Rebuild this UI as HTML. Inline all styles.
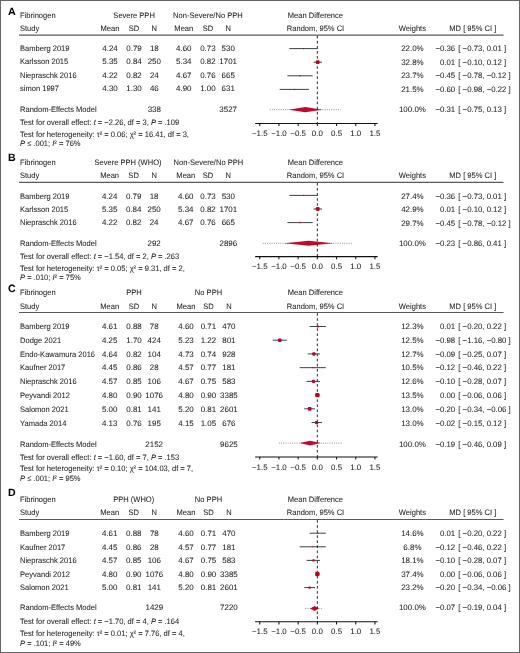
<!DOCTYPE html>
<html><head><meta charset="utf-8"><style>
html,body{margin:0;padding:0;background:#fff;}
body{width:520px;height:653px;overflow:hidden;position:relative;}
svg{position:absolute;left:0;top:0;filter:blur(0.3px);}
text{text-rendering:geometricPrecision;font-family:"Liberation Sans",sans-serif;font-size:7.95px;fill:#1e1e1e;stroke:#1e1e1e;stroke-width:0.06px;}
text.tk{font-size:7.9px;}
text.lab{font-size:10.6px;font-weight:bold;fill:#000;}
.hl{stroke:#5a5a5a;stroke-width:1.2;}
.ci{stroke:#2a2a2a;stroke-width:0.9;}
.sq{fill:#b4072c;}
.dia{fill:#c20a30;}
.pi{stroke:#555;stroke-width:0.7;stroke-dasharray:0.9 1.3;}
.zero{stroke:#111;stroke-width:0.9;stroke-dasharray:2.6 2.47;}
.ax{stroke:#111;stroke-width:1.05;}
.frame{position:absolute;left:0;top:0;width:518px;height:651px;border:1px solid #666;}
</style></head><body>
<svg width="520" height="653" viewBox="0 0 520 653">
<text x="7.9" y="14.6" class="lab">A</text>
<text transform="translate(20.00 17.70) scale(0.95 1)" text-anchor="start">Fibrinogen</text>
<text transform="translate(134.10 17.70) scale(0.95 1)" text-anchor="middle">Severe PPH</text>
<text transform="translate(207.90 17.70) scale(0.95 1)" text-anchor="middle">Non-Severe/No PPH</text>
<text transform="translate(315.40 17.70) scale(0.95 1)" text-anchor="middle">Mean Difference</text>
<text transform="translate(20.00 31.10) scale(0.95 1)" text-anchor="start">Study</text>
<text transform="translate(110.00 31.10) scale(0.95 1)" text-anchor="middle">Mean</text>
<text transform="translate(134.00 31.10) scale(0.95 1)" text-anchor="middle">SD</text>
<text transform="translate(154.30 31.10) scale(0.95 1)" text-anchor="middle">N</text>
<text transform="translate(183.80 31.10) scale(0.95 1)" text-anchor="middle">Mean</text>
<text transform="translate(207.90 31.10) scale(0.95 1)" text-anchor="middle">SD</text>
<text transform="translate(228.20 31.10) scale(0.95 1)" text-anchor="middle">N</text>
<text transform="translate(315.50 31.10) scale(0.95 1)" text-anchor="middle">Random, 95% CI</text>
<text transform="translate(412.40 31.10) scale(0.95 1)" text-anchor="middle">Weights</text>
<text transform="translate(472.80 31.10) scale(0.95 1)" text-anchor="middle">MD [ 95% CI ]</text>
<line x1="19" y1="35.2" x2="503.5" y2="35.2" class="hl"/>
<line x1="269.73" y1="109.7" x2="340.39" y2="109.7" class="pi"/>
<polygon points="288.55,109.7 305.45,107.10000000000001 322.34,109.7 305.45,112.3" class="dia"/>
<line x1="317.35" y1="35.800000000000004" x2="317.35" y2="123.4" class="zero"/>
<text transform="translate(20.00 51.20) scale(0.95 1)" text-anchor="start">Bamberg 2019</text>
<text transform="translate(110.00 51.20) scale(1.0 1)" text-anchor="middle">4.24</text>
<text transform="translate(134.00 51.20) scale(1.0 1)" text-anchor="middle">0.79</text>
<text transform="translate(154.30 51.20) scale(1.0 1)" text-anchor="middle">18</text>
<text transform="translate(183.80 51.20) scale(1.0 1)" text-anchor="middle">4.60</text>
<text transform="translate(207.90 51.20) scale(1.0 1)" text-anchor="middle">0.73</text>
<text transform="translate(228.20 51.20) scale(1.0 1)" text-anchor="middle">530</text>
<text transform="translate(412.40 51.20) scale(1.0 1)" text-anchor="middle">22.0%</text>
<text transform="translate(455.20 51.20) scale(0.98 1)" text-anchor="end">−0.36</text>
<text transform="translate(458.30 51.20) scale(0.98 1)" text-anchor="start">[ −0.73, 0.01 ]</text>
<line x1="289.32" y1="48.60" x2="317.73" y2="48.60" class="ci"/>
<rect x="302.93" y="48.00" width="1.2" height="1.2" rx="0.36" class="sq"/>
<text transform="translate(20.00 64.45) scale(0.95 1)" text-anchor="start">Karlsson 2015</text>
<text transform="translate(110.00 64.45) scale(1.0 1)" text-anchor="middle">5.35</text>
<text transform="translate(134.00 64.45) scale(1.0 1)" text-anchor="middle">0.84</text>
<text transform="translate(154.30 64.45) scale(1.0 1)" text-anchor="middle">250</text>
<text transform="translate(183.80 64.45) scale(1.0 1)" text-anchor="middle">5.34</text>
<text transform="translate(207.90 64.45) scale(1.0 1)" text-anchor="middle">0.82</text>
<text transform="translate(228.20 64.45) scale(1.0 1)" text-anchor="middle">1701</text>
<text transform="translate(412.40 64.70) scale(1.0 1)" text-anchor="middle">32.8%</text>
<text transform="translate(455.20 64.70) scale(0.98 1)" text-anchor="end">0.01</text>
<text transform="translate(458.30 64.70) scale(0.98 1)" text-anchor="start">[ −0.10, 0.12 ]</text>
<line x1="313.51" y1="62.20" x2="321.96" y2="62.20" class="ci"/>
<rect x="315.83" y="60.30" width="3.8" height="3.8" rx="1.14" class="sq"/>
<text transform="translate(20.00 77.70) scale(0.95 1)" text-anchor="start">Niepraschk 2016</text>
<text transform="translate(110.00 77.70) scale(1.0 1)" text-anchor="middle">4.22</text>
<text transform="translate(134.00 77.70) scale(1.0 1)" text-anchor="middle">0.82</text>
<text transform="translate(154.30 77.70) scale(1.0 1)" text-anchor="middle">24</text>
<text transform="translate(183.80 77.70) scale(1.0 1)" text-anchor="middle">4.67</text>
<text transform="translate(207.90 77.70) scale(1.0 1)" text-anchor="middle">0.76</text>
<text transform="translate(228.20 77.70) scale(1.0 1)" text-anchor="middle">665</text>
<text transform="translate(412.40 78.20) scale(1.0 1)" text-anchor="middle">23.7%</text>
<text transform="translate(455.20 78.20) scale(0.98 1)" text-anchor="end">−0.45</text>
<text transform="translate(458.30 78.20) scale(0.98 1)" text-anchor="start">[ −0.78, −0.12 ]</text>
<line x1="287.40" y1="75.80" x2="312.74" y2="75.80" class="ci"/>
<rect x="299.32" y="75.05" width="1.5" height="1.5" rx="0.45" class="sq"/>
<text transform="translate(20.00 90.95) scale(0.95 1)" text-anchor="start">simon 1997</text>
<text transform="translate(110.00 90.95) scale(1.0 1)" text-anchor="middle">4.30</text>
<text transform="translate(134.00 90.95) scale(1.0 1)" text-anchor="middle">1.30</text>
<text transform="translate(154.30 90.95) scale(1.0 1)" text-anchor="middle">46</text>
<text transform="translate(183.80 90.95) scale(1.0 1)" text-anchor="middle">4.90</text>
<text transform="translate(207.90 90.95) scale(1.0 1)" text-anchor="middle">1.00</text>
<text transform="translate(228.20 90.95) scale(1.0 1)" text-anchor="middle">631</text>
<text transform="translate(412.40 91.70) scale(1.0 1)" text-anchor="middle">21.5%</text>
<text transform="translate(455.20 91.70) scale(0.98 1)" text-anchor="end">−0.60</text>
<text transform="translate(458.30 91.70) scale(0.98 1)" text-anchor="start">[ −0.98, −0.22 ]</text>
<line x1="279.72" y1="89.40" x2="308.90" y2="89.40" class="ci"/>
<rect x="293.71" y="88.80" width="1.2" height="1.2" rx="0.36" class="sq"/>
<text transform="translate(20.00 112.30) scale(0.95 1)" text-anchor="start">Random-Effects Model</text>
<text transform="translate(154.30 112.30) scale(1.0 1)" text-anchor="middle">338</text>
<text transform="translate(228.20 112.30) scale(1.0 1)" text-anchor="middle">3527</text>
<text transform="translate(412.40 112.30) scale(1.0 1)" text-anchor="middle">100.0%</text>
<text transform="translate(455.20 112.30) scale(0.98 1)" text-anchor="end">−0.31</text>
<text transform="translate(458.30 112.30) scale(0.98 1)" text-anchor="start">[ −0.75, 0.13 ]</text>
<text transform="translate(20.00 124.90) scale(0.95 1)">Test for overall effect: <tspan font-style="italic">t</tspan> = −2.26, df = 3, <tspan font-style="italic">P</tspan> = .109</text>
<text transform="translate(20.00 136.90) scale(0.95 1)">Test for heterogeneity: τ² = 0.06; χ² = 16.41, df = 3,</text>
<text transform="translate(20.00 145.90) scale(0.95 1)"><tspan font-style="italic">P</tspan> ≤ .001; <tspan font-style="italic">I</tspan>² = 76%</text>
<line x1="255.14" y1="123.4" x2="377.64" y2="123.4" class="ax"/>
<line x1="259.75" y1="123.4" x2="259.75" y2="126.0" class="ax"/>
<text transform="translate(259.75 136.20) scale(1.0 1)" text-anchor="middle" class="tk">−1.5</text>
<line x1="278.95" y1="123.4" x2="278.95" y2="126.0" class="ax"/>
<text transform="translate(278.95 136.20) scale(1.0 1)" text-anchor="middle" class="tk">−1.0</text>
<line x1="298.15" y1="123.4" x2="298.15" y2="126.0" class="ax"/>
<text transform="translate(298.15 136.20) scale(1.0 1)" text-anchor="middle" class="tk">−0.5</text>
<line x1="317.35" y1="123.4" x2="317.35" y2="126.0" class="ax"/>
<text transform="translate(317.35 136.20) scale(1.0 1)" text-anchor="middle" class="tk">0.0</text>
<line x1="336.55" y1="123.4" x2="336.55" y2="126.0" class="ax"/>
<text transform="translate(336.55 136.20) scale(1.0 1)" text-anchor="middle" class="tk">0.5</text>
<line x1="355.75" y1="123.4" x2="355.75" y2="126.0" class="ax"/>
<text transform="translate(355.75 136.20) scale(1.0 1)" text-anchor="middle" class="tk">1.0</text>
<line x1="374.95" y1="123.4" x2="374.95" y2="126.0" class="ax"/>
<text transform="translate(374.95 136.20) scale(1.0 1)" text-anchor="middle" class="tk">1.5</text>
<text x="7.9" y="160.5" class="lab">B</text>
<text transform="translate(20.00 164.70) scale(0.95 1)" text-anchor="start">Fibrinogen</text>
<text transform="translate(128.00 164.70) scale(0.95 1)" text-anchor="middle">Severe PPH (WHO)</text>
<text transform="translate(208.40 164.70) scale(0.95 1)" text-anchor="middle">Non-Severe/No PPH</text>
<text transform="translate(315.40 164.70) scale(0.95 1)" text-anchor="middle">Mean Difference</text>
<text transform="translate(20.00 177.90) scale(0.95 1)" text-anchor="start">Study</text>
<text transform="translate(109.60 177.90) scale(0.95 1)" text-anchor="middle">Mean</text>
<text transform="translate(133.60 177.90) scale(0.95 1)" text-anchor="middle">SD</text>
<text transform="translate(154.10 177.90) scale(0.95 1)" text-anchor="middle">N</text>
<text transform="translate(185.80 177.90) scale(0.95 1)" text-anchor="middle">Mean</text>
<text transform="translate(208.00 177.90) scale(0.95 1)" text-anchor="middle">SD</text>
<text transform="translate(228.30 177.90) scale(0.95 1)" text-anchor="middle">N</text>
<text transform="translate(315.50 177.90) scale(0.95 1)" text-anchor="middle">Random, 95% CI</text>
<text transform="translate(412.40 177.90) scale(0.95 1)" text-anchor="middle">Weights</text>
<text transform="translate(472.80 177.90) scale(0.95 1)" text-anchor="middle">MD [ 95% CI ]</text>
<line x1="19" y1="182.4" x2="503.5" y2="182.4" class="hl"/>
<line x1="262.82" y1="243.3" x2="352.68" y2="243.3" class="pi"/>
<polygon points="284.33,243.3 308.52,240.8 333.09,243.3 308.52,245.8" class="dia"/>
<line x1="317.35" y1="183.0" x2="317.35" y2="256.6" class="zero"/>
<text transform="translate(20.00 198.50) scale(0.95 1)" text-anchor="start">Bamberg 2019</text>
<text transform="translate(109.60 198.50) scale(1.0 1)" text-anchor="middle">4.24</text>
<text transform="translate(133.60 198.50) scale(1.0 1)" text-anchor="middle">0.79</text>
<text transform="translate(154.10 198.50) scale(1.0 1)" text-anchor="middle">18</text>
<text transform="translate(185.80 198.50) scale(1.0 1)" text-anchor="middle">4.60</text>
<text transform="translate(208.00 198.50) scale(1.0 1)" text-anchor="middle">0.73</text>
<text transform="translate(228.30 198.50) scale(1.0 1)" text-anchor="middle">530</text>
<text transform="translate(412.40 198.50) scale(1.0 1)" text-anchor="middle">27.4%</text>
<text transform="translate(455.20 198.50) scale(0.98 1)" text-anchor="end">−0.36</text>
<text transform="translate(458.30 198.50) scale(0.98 1)" text-anchor="start">[ −0.73, 0.01 ]</text>
<line x1="289.32" y1="195.40" x2="317.73" y2="195.40" class="ci"/>
<rect x="302.93" y="194.80" width="1.2" height="1.2" rx="0.36" class="sq"/>
<text transform="translate(20.00 211.90) scale(0.95 1)" text-anchor="start">Karlsson 2015</text>
<text transform="translate(109.60 211.90) scale(1.0 1)" text-anchor="middle">5.35</text>
<text transform="translate(133.60 211.90) scale(1.0 1)" text-anchor="middle">0.84</text>
<text transform="translate(154.10 211.90) scale(1.0 1)" text-anchor="middle">250</text>
<text transform="translate(185.80 211.90) scale(1.0 1)" text-anchor="middle">5.34</text>
<text transform="translate(208.00 211.90) scale(1.0 1)" text-anchor="middle">0.82</text>
<text transform="translate(228.30 211.90) scale(1.0 1)" text-anchor="middle">1701</text>
<text transform="translate(412.40 212.10) scale(1.0 1)" text-anchor="middle">42.9%</text>
<text transform="translate(455.20 212.10) scale(0.98 1)" text-anchor="end">0.01</text>
<text transform="translate(458.30 212.10) scale(0.98 1)" text-anchor="start">[ −0.10, 0.12 ]</text>
<line x1="313.51" y1="209.00" x2="321.96" y2="209.00" class="ci"/>
<rect x="315.83" y="207.10" width="3.8" height="3.8" rx="1.14" class="sq"/>
<text transform="translate(20.00 225.30) scale(0.95 1)" text-anchor="start">Niepraschk 2016</text>
<text transform="translate(109.60 225.30) scale(1.0 1)" text-anchor="middle">4.22</text>
<text transform="translate(133.60 225.30) scale(1.0 1)" text-anchor="middle">0.82</text>
<text transform="translate(154.10 225.30) scale(1.0 1)" text-anchor="middle">24</text>
<text transform="translate(185.80 225.30) scale(1.0 1)" text-anchor="middle">4.67</text>
<text transform="translate(208.00 225.30) scale(1.0 1)" text-anchor="middle">0.76</text>
<text transform="translate(228.30 225.30) scale(1.0 1)" text-anchor="middle">665</text>
<text transform="translate(412.40 225.70) scale(1.0 1)" text-anchor="middle">29.7%</text>
<text transform="translate(455.20 225.70) scale(0.98 1)" text-anchor="end">−0.45</text>
<text transform="translate(458.30 225.70) scale(0.98 1)" text-anchor="start">[ −0.78, −0.12 ]</text>
<line x1="287.40" y1="222.60" x2="312.74" y2="222.60" class="ci"/>
<rect x="299.32" y="221.85" width="1.5" height="1.5" rx="0.45" class="sq"/>
<text transform="translate(20.00 245.60) scale(0.95 1)" text-anchor="start">Random-Effects Model</text>
<text transform="translate(154.10 245.60) scale(1.0 1)" text-anchor="middle">292</text>
<text transform="translate(228.30 245.60) scale(1.0 1)" text-anchor="middle">2896</text>
<text transform="translate(412.40 245.60) scale(1.0 1)" text-anchor="middle">100.0%</text>
<text transform="translate(455.20 245.60) scale(0.98 1)" text-anchor="end">−0.23</text>
<text transform="translate(458.30 245.60) scale(0.98 1)" text-anchor="start">[ −0.86, 0.41 ]</text>
<text transform="translate(20.00 258.70) scale(0.95 1)">Test for overall effect: <tspan font-style="italic">t</tspan> = −1.54, df = 2, <tspan font-style="italic">P</tspan> = .263</text>
<text transform="translate(20.00 270.60) scale(0.95 1)">Test for heterogeneity: τ² = 0.05; χ² = 9.31, df = 2,</text>
<text transform="translate(20.00 279.60) scale(0.95 1)"><tspan font-style="italic">P</tspan> = .010; <tspan font-style="italic">I</tspan>² = 75%</text>
<line x1="255.14" y1="256.6" x2="377.64" y2="256.6" class="ax"/>
<line x1="259.75" y1="256.6" x2="259.75" y2="259.20000000000005" class="ax"/>
<text transform="translate(259.75 269.00) scale(1.0 1)" text-anchor="middle" class="tk">−1.5</text>
<line x1="278.95" y1="256.6" x2="278.95" y2="259.20000000000005" class="ax"/>
<text transform="translate(278.95 269.00) scale(1.0 1)" text-anchor="middle" class="tk">−1.0</text>
<line x1="298.15" y1="256.6" x2="298.15" y2="259.20000000000005" class="ax"/>
<text transform="translate(298.15 269.00) scale(1.0 1)" text-anchor="middle" class="tk">−0.5</text>
<line x1="317.35" y1="256.6" x2="317.35" y2="259.20000000000005" class="ax"/>
<text transform="translate(317.35 269.00) scale(1.0 1)" text-anchor="middle" class="tk">0.0</text>
<line x1="336.55" y1="256.6" x2="336.55" y2="259.20000000000005" class="ax"/>
<text transform="translate(336.55 269.00) scale(1.0 1)" text-anchor="middle" class="tk">0.5</text>
<line x1="355.75" y1="256.6" x2="355.75" y2="259.20000000000005" class="ax"/>
<text transform="translate(355.75 269.00) scale(1.0 1)" text-anchor="middle" class="tk">1.0</text>
<line x1="374.95" y1="256.6" x2="374.95" y2="259.20000000000005" class="ax"/>
<text transform="translate(374.95 269.00) scale(1.0 1)" text-anchor="middle" class="tk">1.5</text>
<text x="7.9" y="292.1" class="lab">C</text>
<text transform="translate(20.00 295.30) scale(0.95 1)" text-anchor="start">Fibrinogen</text>
<text transform="translate(134.00 295.30) scale(0.95 1)" text-anchor="middle">PPH</text>
<text transform="translate(208.50 295.30) scale(0.95 1)" text-anchor="middle">No PPH</text>
<text transform="translate(315.40 295.30) scale(0.95 1)" text-anchor="middle">Mean Difference</text>
<text transform="translate(20.00 308.80) scale(0.95 1)" text-anchor="start">Study</text>
<text transform="translate(109.70 308.80) scale(0.95 1)" text-anchor="middle">Mean</text>
<text transform="translate(134.00 308.80) scale(0.95 1)" text-anchor="middle">SD</text>
<text transform="translate(154.20 308.80) scale(0.95 1)" text-anchor="middle">N</text>
<text transform="translate(186.00 308.80) scale(0.95 1)" text-anchor="middle">Mean</text>
<text transform="translate(208.40 308.80) scale(0.95 1)" text-anchor="middle">SD</text>
<text transform="translate(228.90 308.80) scale(0.95 1)" text-anchor="middle">N</text>
<text transform="translate(315.50 308.80) scale(0.95 1)" text-anchor="middle">Random, 95% CI</text>
<text transform="translate(412.40 308.80) scale(0.95 1)" text-anchor="middle">Weights</text>
<text transform="translate(472.80 308.80) scale(0.95 1)" text-anchor="middle">MD [ 95% CI ]</text>
<line x1="19" y1="312.5" x2="503.5" y2="312.5" class="hl"/>
<line x1="278.95" y1="443.1" x2="341.54" y2="443.1" class="pi"/>
<polygon points="299.69,443.1 310.05,440.65000000000003 320.81,443.1 310.05,445.55" class="dia"/>
<line x1="317.35" y1="313.1" x2="317.35" y2="457.0" class="zero"/>
<text transform="translate(20.00 328.90) scale(0.95 1)" text-anchor="start">Bamberg 2019</text>
<text transform="translate(109.70 328.90) scale(1.0 1)" text-anchor="middle">4.61</text>
<text transform="translate(134.00 328.90) scale(1.0 1)" text-anchor="middle">0.88</text>
<text transform="translate(154.20 328.90) scale(1.0 1)" text-anchor="middle">78</text>
<text transform="translate(186.00 328.90) scale(1.0 1)" text-anchor="middle">4.60</text>
<text transform="translate(208.40 328.90) scale(1.0 1)" text-anchor="middle">0.71</text>
<text transform="translate(228.90 328.90) scale(1.0 1)" text-anchor="middle">470</text>
<text transform="translate(412.40 328.90) scale(1.0 1)" text-anchor="middle">12.3%</text>
<text transform="translate(455.20 328.90) scale(0.98 1)" text-anchor="end">0.01</text>
<text transform="translate(458.30 328.90) scale(0.98 1)" text-anchor="start">[ −0.20, 0.22 ]</text>
<line x1="309.67" y1="326.50" x2="325.80" y2="326.50" class="ci"/>
<rect x="316.63" y="325.40" width="2.2" height="2.2" rx="0.66" class="sq"/>
<text transform="translate(20.00 342.70) scale(0.95 1)" text-anchor="start">Dodge 2021</text>
<text transform="translate(109.70 342.70) scale(1.0 1)" text-anchor="middle">4.25</text>
<text transform="translate(134.00 342.70) scale(1.0 1)" text-anchor="middle">1.70</text>
<text transform="translate(154.20 342.70) scale(1.0 1)" text-anchor="middle">424</text>
<text transform="translate(186.00 342.70) scale(1.0 1)" text-anchor="middle">5.23</text>
<text transform="translate(208.40 342.70) scale(1.0 1)" text-anchor="middle">1.22</text>
<text transform="translate(228.90 342.70) scale(1.0 1)" text-anchor="middle">801</text>
<text transform="translate(412.40 342.70) scale(1.0 1)" text-anchor="middle">12.5%</text>
<text transform="translate(455.20 342.70) scale(0.98 1)" text-anchor="end">−0.98</text>
<text transform="translate(458.30 342.70) scale(0.98 1)" text-anchor="start">[ −1.16, −0.80 ]</text>
<line x1="272.81" y1="340.22" x2="286.63" y2="340.22" class="ci"/>
<rect x="277.92" y="338.42" width="3.6" height="3.6" rx="1.08" class="sq"/>
<text transform="translate(20.00 356.50) scale(0.95 1)" text-anchor="start">Endo-Kawamura 2016</text>
<text transform="translate(109.70 356.50) scale(1.0 1)" text-anchor="middle">4.64</text>
<text transform="translate(134.00 356.50) scale(1.0 1)" text-anchor="middle">0.82</text>
<text transform="translate(154.20 356.50) scale(1.0 1)" text-anchor="middle">104</text>
<text transform="translate(186.00 356.50) scale(1.0 1)" text-anchor="middle">4.73</text>
<text transform="translate(208.40 356.50) scale(1.0 1)" text-anchor="middle">0.74</text>
<text transform="translate(228.90 356.50) scale(1.0 1)" text-anchor="middle">928</text>
<text transform="translate(412.40 356.50) scale(1.0 1)" text-anchor="middle">12.7%</text>
<text transform="translate(455.20 356.50) scale(0.98 1)" text-anchor="end">−0.09</text>
<text transform="translate(458.30 356.50) scale(0.98 1)" text-anchor="start">[ −0.25, 0.07 ]</text>
<line x1="307.75" y1="353.94" x2="320.04" y2="353.94" class="ci"/>
<rect x="312.19" y="352.24" width="3.4" height="3.4" rx="1.02" class="sq"/>
<text transform="translate(20.00 370.30) scale(0.95 1)" text-anchor="start">Kaufner 2017</text>
<text transform="translate(109.70 370.30) scale(1.0 1)" text-anchor="middle">4.45</text>
<text transform="translate(134.00 370.30) scale(1.0 1)" text-anchor="middle">0.86</text>
<text transform="translate(154.20 370.30) scale(1.0 1)" text-anchor="middle">28</text>
<text transform="translate(186.00 370.30) scale(1.0 1)" text-anchor="middle">4.57</text>
<text transform="translate(208.40 370.30) scale(1.0 1)" text-anchor="middle">0.77</text>
<text transform="translate(228.90 370.30) scale(1.0 1)" text-anchor="middle">181</text>
<text transform="translate(412.40 370.30) scale(1.0 1)" text-anchor="middle">10.5%</text>
<text transform="translate(455.20 370.30) scale(0.98 1)" text-anchor="end">−0.12</text>
<text transform="translate(458.30 370.30) scale(0.98 1)" text-anchor="start">[ −0.46, 0.22 ]</text>
<line x1="299.69" y1="367.66" x2="325.80" y2="367.66" class="ci"/>
<rect x="312.14" y="367.06" width="1.2" height="1.2" rx="0.36" class="sq"/>
<text transform="translate(20.00 384.10) scale(0.95 1)" text-anchor="start">Niepraschk 2016</text>
<text transform="translate(109.70 384.10) scale(1.0 1)" text-anchor="middle">4.57</text>
<text transform="translate(134.00 384.10) scale(1.0 1)" text-anchor="middle">0.85</text>
<text transform="translate(154.20 384.10) scale(1.0 1)" text-anchor="middle">106</text>
<text transform="translate(186.00 384.10) scale(1.0 1)" text-anchor="middle">4.67</text>
<text transform="translate(208.40 384.10) scale(1.0 1)" text-anchor="middle">0.75</text>
<text transform="translate(228.90 384.10) scale(1.0 1)" text-anchor="middle">583</text>
<text transform="translate(412.40 384.10) scale(1.0 1)" text-anchor="middle">12.6%</text>
<text transform="translate(455.20 384.10) scale(0.98 1)" text-anchor="end">−0.10</text>
<text transform="translate(458.30 384.10) scale(0.98 1)" text-anchor="start">[ −0.28, 0.07 ]</text>
<line x1="306.60" y1="381.38" x2="320.04" y2="381.38" class="ci"/>
<rect x="311.91" y="379.78" width="3.2" height="3.2" rx="0.96" class="sq"/>
<text transform="translate(20.00 397.90) scale(0.95 1)" text-anchor="start">Peyvandi 2012</text>
<text transform="translate(109.70 397.90) scale(1.0 1)" text-anchor="middle">4.80</text>
<text transform="translate(134.00 397.90) scale(1.0 1)" text-anchor="middle">0.90</text>
<text transform="translate(154.20 397.90) scale(1.0 1)" text-anchor="middle">1076</text>
<text transform="translate(186.00 397.90) scale(1.0 1)" text-anchor="middle">4.80</text>
<text transform="translate(208.40 397.90) scale(1.0 1)" text-anchor="middle">0.90</text>
<text transform="translate(228.90 397.90) scale(1.0 1)" text-anchor="middle">3385</text>
<text transform="translate(412.40 397.90) scale(1.0 1)" text-anchor="middle">13.5%</text>
<text transform="translate(455.20 397.90) scale(0.98 1)" text-anchor="end">0.00</text>
<text transform="translate(458.30 397.90) scale(0.98 1)" text-anchor="start">[ −0.06, 0.06 ]</text>
<line x1="315.05" y1="395.10" x2="319.65" y2="395.10" class="ci"/>
<rect x="315.15" y="392.90" width="4.4" height="4.4" rx="1.32" class="sq"/>
<text transform="translate(20.00 411.70) scale(0.95 1)" text-anchor="start">Salomon 2021</text>
<text transform="translate(109.70 411.70) scale(1.0 1)" text-anchor="middle">5.00</text>
<text transform="translate(134.00 411.70) scale(1.0 1)" text-anchor="middle">0.81</text>
<text transform="translate(154.20 411.70) scale(1.0 1)" text-anchor="middle">141</text>
<text transform="translate(186.00 411.70) scale(1.0 1)" text-anchor="middle">5.20</text>
<text transform="translate(208.40 411.70) scale(1.0 1)" text-anchor="middle">0.81</text>
<text transform="translate(228.90 411.70) scale(1.0 1)" text-anchor="middle">2601</text>
<text transform="translate(412.40 411.70) scale(1.0 1)" text-anchor="middle">13.0%</text>
<text transform="translate(455.20 411.70) scale(0.98 1)" text-anchor="end">−0.20</text>
<text transform="translate(458.30 411.70) scale(0.98 1)" text-anchor="start">[ −0.34, −0.06 ]</text>
<line x1="304.29" y1="408.82" x2="315.05" y2="408.82" class="ci"/>
<rect x="307.77" y="406.92" width="3.8" height="3.8" rx="1.14" class="sq"/>
<text transform="translate(20.00 425.50) scale(0.95 1)" text-anchor="start">Yamada 2014</text>
<text transform="translate(109.70 425.50) scale(1.0 1)" text-anchor="middle">4.13</text>
<text transform="translate(134.00 425.50) scale(1.0 1)" text-anchor="middle">0.76</text>
<text transform="translate(154.20 425.50) scale(1.0 1)" text-anchor="middle">195</text>
<text transform="translate(186.00 425.50) scale(1.0 1)" text-anchor="middle">4.15</text>
<text transform="translate(208.40 425.50) scale(1.0 1)" text-anchor="middle">1.05</text>
<text transform="translate(228.90 425.50) scale(1.0 1)" text-anchor="middle">676</text>
<text transform="translate(412.40 425.50) scale(1.0 1)" text-anchor="middle">13.0%</text>
<text transform="translate(455.20 425.50) scale(0.98 1)" text-anchor="end">−0.02</text>
<text transform="translate(458.30 425.50) scale(0.98 1)" text-anchor="start">[ −0.15, 0.12 ]</text>
<line x1="311.59" y1="422.54" x2="321.96" y2="422.54" class="ci"/>
<rect x="314.98" y="420.94" width="3.2" height="3.2" rx="0.96" class="sq"/>
<text transform="translate(20.00 446.60) scale(0.95 1)" text-anchor="start">Random-Effects Model</text>
<text transform="translate(154.20 446.60) scale(1.0 1)" text-anchor="middle">2152</text>
<text transform="translate(228.90 446.60) scale(1.0 1)" text-anchor="middle">9625</text>
<text transform="translate(412.40 446.60) scale(1.0 1)" text-anchor="middle">100.0%</text>
<text transform="translate(455.20 446.60) scale(0.98 1)" text-anchor="end">−0.19</text>
<text transform="translate(458.30 446.60) scale(0.98 1)" text-anchor="start">[ −0.46, 0.09 ]</text>
<text transform="translate(20.00 459.60) scale(0.95 1)">Test for overall effect: <tspan font-style="italic">t</tspan> = −1.60, df = 7, <tspan font-style="italic">P</tspan> = .153</text>
<text transform="translate(20.00 471.40) scale(0.95 1)">Test for heterogeneity: τ² = 0.10; χ² = 104.03, df = 7,</text>
<text transform="translate(20.00 481.30) scale(0.95 1)"><tspan font-style="italic">P</tspan> ≤ .001; <tspan font-style="italic">I</tspan>² = 95%</text>
<line x1="255.14" y1="457.0" x2="377.64" y2="457.0" class="ax"/>
<line x1="259.75" y1="457.0" x2="259.75" y2="459.6" class="ax"/>
<text transform="translate(259.75 469.90) scale(1.0 1)" text-anchor="middle" class="tk">−1.5</text>
<line x1="278.95" y1="457.0" x2="278.95" y2="459.6" class="ax"/>
<text transform="translate(278.95 469.90) scale(1.0 1)" text-anchor="middle" class="tk">−1.0</text>
<line x1="298.15" y1="457.0" x2="298.15" y2="459.6" class="ax"/>
<text transform="translate(298.15 469.90) scale(1.0 1)" text-anchor="middle" class="tk">−0.5</text>
<line x1="317.35" y1="457.0" x2="317.35" y2="459.6" class="ax"/>
<text transform="translate(317.35 469.90) scale(1.0 1)" text-anchor="middle" class="tk">0.0</text>
<line x1="336.55" y1="457.0" x2="336.55" y2="459.6" class="ax"/>
<text transform="translate(336.55 469.90) scale(1.0 1)" text-anchor="middle" class="tk">0.5</text>
<line x1="355.75" y1="457.0" x2="355.75" y2="459.6" class="ax"/>
<text transform="translate(355.75 469.90) scale(1.0 1)" text-anchor="middle" class="tk">1.0</text>
<line x1="374.95" y1="457.0" x2="374.95" y2="459.6" class="ax"/>
<text transform="translate(374.95 469.90) scale(1.0 1)" text-anchor="middle" class="tk">1.5</text>
<text x="7.9" y="496.1" class="lab">D</text>
<text transform="translate(20.00 501.70) scale(0.95 1)" text-anchor="start">Fibrinogen</text>
<text transform="translate(133.70 501.70) scale(0.95 1)" text-anchor="middle">PPH (WHO)</text>
<text transform="translate(208.50 501.70) scale(0.95 1)" text-anchor="middle">No PPH</text>
<text transform="translate(315.40 501.70) scale(0.95 1)" text-anchor="middle">Mean Difference</text>
<text transform="translate(20.00 515.10) scale(0.95 1)" text-anchor="start">Study</text>
<text transform="translate(109.70 515.10) scale(0.95 1)" text-anchor="middle">Mean</text>
<text transform="translate(133.80 515.10) scale(0.95 1)" text-anchor="middle">SD</text>
<text transform="translate(154.30 515.10) scale(0.95 1)" text-anchor="middle">N</text>
<text transform="translate(186.00 515.10) scale(0.95 1)" text-anchor="middle">Mean</text>
<text transform="translate(208.50 515.10) scale(0.95 1)" text-anchor="middle">SD</text>
<text transform="translate(228.90 515.10) scale(0.95 1)" text-anchor="middle">N</text>
<text transform="translate(315.50 515.10) scale(0.95 1)" text-anchor="middle">Random, 95% CI</text>
<text transform="translate(412.40 515.10) scale(0.95 1)" text-anchor="middle">Weights</text>
<text transform="translate(472.80 515.10) scale(0.95 1)" text-anchor="middle">MD [ 95% CI ]</text>
<line x1="19" y1="519.5" x2="503.5" y2="519.5" class="hl"/>
<line x1="305.45" y1="608.4" x2="323.11" y2="608.4" class="pi"/>
<polygon points="310.05,608.4 314.66,605.9 318.89,608.4 314.66,610.9" class="dia"/>
<line x1="317.35" y1="520.1" x2="317.35" y2="621.8" class="zero"/>
<text transform="translate(20.00 536.00) scale(0.95 1)" text-anchor="start">Bamberg 2019</text>
<text transform="translate(109.70 536.00) scale(1.0 1)" text-anchor="middle">4.61</text>
<text transform="translate(133.80 536.00) scale(1.0 1)" text-anchor="middle">0.88</text>
<text transform="translate(154.30 536.00) scale(1.0 1)" text-anchor="middle">78</text>
<text transform="translate(186.00 536.00) scale(1.0 1)" text-anchor="middle">4.60</text>
<text transform="translate(208.50 536.00) scale(1.0 1)" text-anchor="middle">0.71</text>
<text transform="translate(228.90 536.00) scale(1.0 1)" text-anchor="middle">470</text>
<text transform="translate(412.40 536.00) scale(1.0 1)" text-anchor="middle">14.6%</text>
<text transform="translate(455.20 536.00) scale(0.98 1)" text-anchor="end">0.01</text>
<text transform="translate(458.30 536.00) scale(0.98 1)" text-anchor="start">[ −0.20, 0.22 ]</text>
<line x1="309.67" y1="533.20" x2="325.80" y2="533.20" class="ci"/>
<rect x="317.13" y="532.60" width="1.2" height="1.2" rx="0.36" class="sq"/>
<text transform="translate(20.00 549.55) scale(0.95 1)" text-anchor="start">Kaufner 2017</text>
<text transform="translate(109.70 549.55) scale(1.0 1)" text-anchor="middle">4.45</text>
<text transform="translate(133.80 549.55) scale(1.0 1)" text-anchor="middle">0.86</text>
<text transform="translate(154.30 549.55) scale(1.0 1)" text-anchor="middle">28</text>
<text transform="translate(186.00 549.55) scale(1.0 1)" text-anchor="middle">4.57</text>
<text transform="translate(208.50 549.55) scale(1.0 1)" text-anchor="middle">0.77</text>
<text transform="translate(228.90 549.55) scale(1.0 1)" text-anchor="middle">181</text>
<text transform="translate(412.40 549.55) scale(1.0 1)" text-anchor="middle">6.8%</text>
<text transform="translate(455.20 549.55) scale(0.98 1)" text-anchor="end">−0.12</text>
<text transform="translate(458.30 549.55) scale(0.98 1)" text-anchor="start">[ −0.46, 0.22 ]</text>
<line x1="299.69" y1="546.80" x2="325.80" y2="546.80" class="ci"/>
<rect x="312.24" y="546.30" width="1.0" height="1.0" rx="0.30" class="sq"/>
<text transform="translate(20.00 563.10) scale(0.95 1)" text-anchor="start">Niepraschk 2016</text>
<text transform="translate(109.70 563.10) scale(1.0 1)" text-anchor="middle">4.57</text>
<text transform="translate(133.80 563.10) scale(1.0 1)" text-anchor="middle">0.85</text>
<text transform="translate(154.30 563.10) scale(1.0 1)" text-anchor="middle">106</text>
<text transform="translate(186.00 563.10) scale(1.0 1)" text-anchor="middle">4.67</text>
<text transform="translate(208.50 563.10) scale(1.0 1)" text-anchor="middle">0.75</text>
<text transform="translate(228.90 563.10) scale(1.0 1)" text-anchor="middle">583</text>
<text transform="translate(412.40 563.10) scale(1.0 1)" text-anchor="middle">18.1%</text>
<text transform="translate(455.20 563.10) scale(0.98 1)" text-anchor="end">−0.10</text>
<text transform="translate(458.30 563.10) scale(0.98 1)" text-anchor="start">[ −0.28, 0.07 ]</text>
<line x1="306.60" y1="560.40" x2="320.04" y2="560.40" class="ci"/>
<rect x="312.31" y="559.20" width="2.4" height="2.4" rx="0.72" class="sq"/>
<text transform="translate(20.00 576.65) scale(0.95 1)" text-anchor="start">Peyvandi 2012</text>
<text transform="translate(109.70 576.65) scale(1.0 1)" text-anchor="middle">4.80</text>
<text transform="translate(133.80 576.65) scale(1.0 1)" text-anchor="middle">0.90</text>
<text transform="translate(154.30 576.65) scale(1.0 1)" text-anchor="middle">1076</text>
<text transform="translate(186.00 576.65) scale(1.0 1)" text-anchor="middle">4.80</text>
<text transform="translate(208.50 576.65) scale(1.0 1)" text-anchor="middle">0.90</text>
<text transform="translate(228.90 576.65) scale(1.0 1)" text-anchor="middle">3385</text>
<text transform="translate(412.40 576.65) scale(1.0 1)" text-anchor="middle">37.4%</text>
<text transform="translate(455.20 576.65) scale(0.98 1)" text-anchor="end">0.00</text>
<text transform="translate(458.30 576.65) scale(0.98 1)" text-anchor="start">[ −0.06, 0.06 ]</text>
<line x1="315.05" y1="574.00" x2="319.65" y2="574.00" class="ci"/>
<rect x="315.15" y="571.80" width="4.4" height="4.4" rx="1.32" class="sq"/>
<text transform="translate(20.00 590.20) scale(0.95 1)" text-anchor="start">Salomon 2021</text>
<text transform="translate(109.70 590.20) scale(1.0 1)" text-anchor="middle">5.00</text>
<text transform="translate(133.80 590.20) scale(1.0 1)" text-anchor="middle">0.81</text>
<text transform="translate(154.30 590.20) scale(1.0 1)" text-anchor="middle">141</text>
<text transform="translate(186.00 590.20) scale(1.0 1)" text-anchor="middle">5.20</text>
<text transform="translate(208.50 590.20) scale(1.0 1)" text-anchor="middle">0.81</text>
<text transform="translate(228.90 590.20) scale(1.0 1)" text-anchor="middle">2601</text>
<text transform="translate(412.40 590.20) scale(1.0 1)" text-anchor="middle">23.2%</text>
<text transform="translate(455.20 590.20) scale(0.98 1)" text-anchor="end">−0.20</text>
<text transform="translate(458.30 590.20) scale(0.98 1)" text-anchor="start">[ −0.34, −0.06 ]</text>
<line x1="304.29" y1="587.60" x2="315.05" y2="587.60" class="ci"/>
<rect x="308.47" y="586.40" width="2.4" height="2.4" rx="0.72" class="sq"/>
<text transform="translate(20.00 609.90) scale(0.95 1)" text-anchor="start">Random-Effects Model</text>
<text transform="translate(154.30 609.90) scale(1.0 1)" text-anchor="middle">1429</text>
<text transform="translate(228.90 609.90) scale(1.0 1)" text-anchor="middle">7220</text>
<text transform="translate(412.40 609.90) scale(1.0 1)" text-anchor="middle">100.0%</text>
<text transform="translate(455.20 609.90) scale(0.98 1)" text-anchor="end">−0.07</text>
<text transform="translate(458.30 609.90) scale(0.98 1)" text-anchor="start">[ −0.19, 0.04 ]</text>
<text transform="translate(20.00 623.50) scale(0.95 1)">Test for overall effect: <tspan font-style="italic">t</tspan> = −1.70, df = 4, <tspan font-style="italic">P</tspan> = .164</text>
<text transform="translate(20.00 635.70) scale(0.95 1)">Test for heterogeneity: τ² = 0.01; χ² = 7.76, df = 4,</text>
<text transform="translate(20.00 645.50) scale(0.95 1)"><tspan font-style="italic">P</tspan> = .101; <tspan font-style="italic">I</tspan>² = 49%</text>
<line x1="255.14" y1="621.8" x2="377.64" y2="621.8" class="ax"/>
<line x1="259.75" y1="621.8" x2="259.75" y2="624.4" class="ax"/>
<text transform="translate(259.75 633.90) scale(1.0 1)" text-anchor="middle" class="tk">−1.5</text>
<line x1="278.95" y1="621.8" x2="278.95" y2="624.4" class="ax"/>
<text transform="translate(278.95 633.90) scale(1.0 1)" text-anchor="middle" class="tk">−1.0</text>
<line x1="298.15" y1="621.8" x2="298.15" y2="624.4" class="ax"/>
<text transform="translate(298.15 633.90) scale(1.0 1)" text-anchor="middle" class="tk">−0.5</text>
<line x1="317.35" y1="621.8" x2="317.35" y2="624.4" class="ax"/>
<text transform="translate(317.35 633.90) scale(1.0 1)" text-anchor="middle" class="tk">0.0</text>
<line x1="336.55" y1="621.8" x2="336.55" y2="624.4" class="ax"/>
<text transform="translate(336.55 633.90) scale(1.0 1)" text-anchor="middle" class="tk">0.5</text>
<line x1="355.75" y1="621.8" x2="355.75" y2="624.4" class="ax"/>
<text transform="translate(355.75 633.90) scale(1.0 1)" text-anchor="middle" class="tk">1.0</text>
<line x1="374.95" y1="621.8" x2="374.95" y2="624.4" class="ax"/>
<text transform="translate(374.95 633.90) scale(1.0 1)" text-anchor="middle" class="tk">1.5</text>
</svg>
<div class="frame"></div>
</body></html>
